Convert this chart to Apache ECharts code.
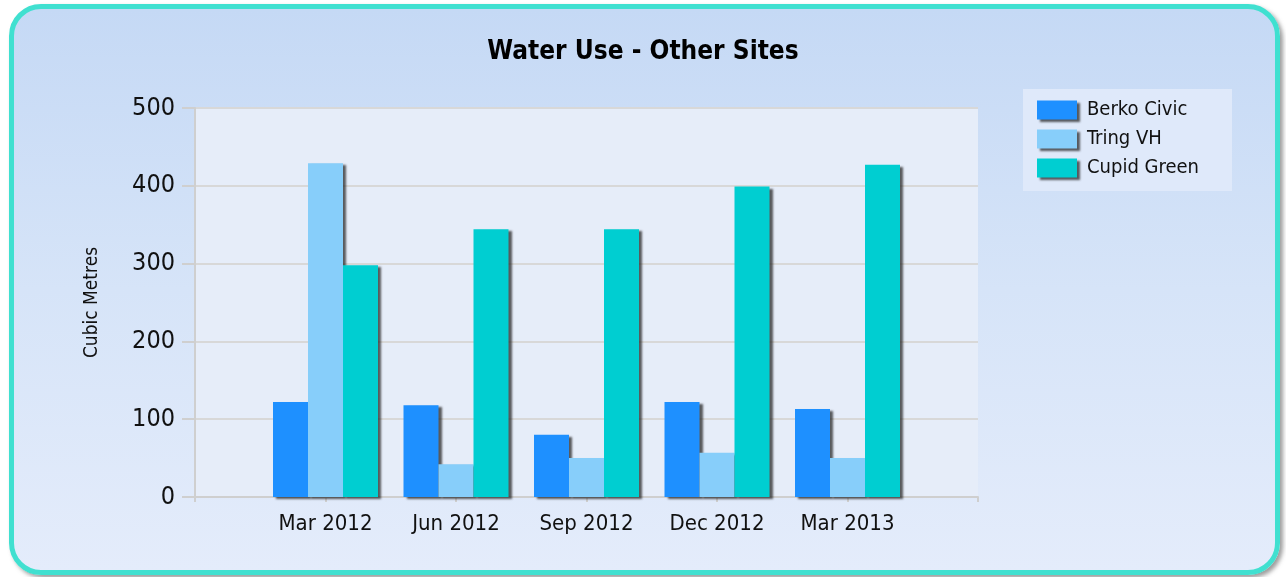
<!DOCTYPE html>
<html>
<head>
<meta charset="utf-8">
<script src="https://cdn.jsdelivr.net/npm/echarts@6/dist/echarts.min.js"></script>
<style>
  html, body { margin: 0; padding: 0; background: #ffffff; }
  #frame {
    position: absolute; left: 9px; top: 4px; width: 1261px; height: 561px;
    border: 5px solid #40e0d0; border-radius: 32px;
    background: linear-gradient(to bottom, #c5d9f5 0%, #d6e4f8 50%, #e4ecfb 100%);
    box-shadow: 3px 3px 4px rgba(90, 90, 90, 0.6);
  }
  #echarts { position: absolute; left: 0; top: 0; width: 1286px; height: 577px; }
</style>
</head>
<body>
<div id="frame"></div>
<div id="echarts"></div>
<script>
  // 数据
  var categories = ['Mar 2012', 'Jun 2012', 'Sep 2012', 'Dec 2012', 'Mar 2013'];
  var berkoCivic = [122, 118, 80, 122, 113];
  var tringVH = [429, 42, 50, 57, 50];
  var cupidGreen = [298, 344, 344, 399, 427];
  var seriesNames = ['Berko Civic', 'Tring VH', 'Cupid Green'];
  var colors = ['#1e90ff', '#87cefa', '#00ced1'];

  var font = "'DejaVu Sans Condensed', 'DejaVu Sans', sans-serif";

  // empty slot on each side of the axis
  function pad(arr) {
    return [''].concat(arr).concat(['']);
  }
  function padData(arr) {
    return ['-'].concat(arr).concat(['-']);
  }

  var myChart = echarts.init(document.getElementById('echarts'));
  var series = [];
  [berkoCivic, tringVH, cupidGreen].forEach(function (values, i) {
    series.push({
      name: seriesNames[i],
      type: 'bar',
      barWidth: 35,
      barGap: '0%',
      itemStyle: {
        color: colors[i],
        shadowColor: 'rgba(40,40,40,0.75)',
        shadowBlur: 2,
        shadowOffsetX: 3,
        shadowOffsetY: 2
      },
      data: padData(values)
    });
  });

  var myOption = {
    animation: false,
    backgroundColor: 'transparent',
    title: {
      text: 'Water Use - Other Sites',
      left: 'center',
      top: 34,
      textStyle: { fontFamily: font, fontSize: 26, fontWeight: 'bold', color: '#000' }
    },
    legend: {
      orient: 'vertical',
      left: 1023,
      top: 89,
      padding: [11, 33, 13, 14],
      itemGap: 9,
      itemWidth: 40,
      itemHeight: 19,
      icon: 'rect',
      backgroundColor: '#dfe9fa',
      itemStyle: {
        shadowColor: 'rgba(40,40,40,0.75)',
        shadowBlur: 2,
        shadowOffsetX: 3,
        shadowOffsetY: 2
      },
      textStyle: { fontFamily: font, fontSize: 20, color: '#111', padding: [0, 0, 0, 5] },
      data: seriesNames
    },
    grid: {
      left: 195,
      right: 308,
      top: 108,
      bottom: 80,
      show: true,
      backgroundColor: '#e6edf9',
      borderWidth: 0
    },
    xAxis: [{
      type: 'category',
      boundaryGap: false,
      data: pad(categories),
      axisLine: { lineStyle: { color: '#cfcfcf', width: 2 } },
      axisTick: { show: true, interval: 0, length: 5, lineStyle: { color: '#cfcfcf', width: 2 } },
      axisLabel: { interval: 0, margin: 16, fontFamily: font, fontSize: 22, color: '#111' },
      splitLine: { show: false }
    }],
    yAxis: [{
      type: 'value',
      min: 0,
      max: 500,
      interval: 100,
      name: 'Cubic Metres',
      nameLocation: 'middle',
      nameGap: 93,
      nameTextStyle: { fontFamily: font, fontSize: 19, color: '#111' },
      axisLine: { show: true, lineStyle: { color: '#cfcfcf', width: 2 } },
      axisTick: { show: true, length: 13, lineStyle: { color: '#cfcfcf', width: 2 } },
      axisLabel: { margin: 20, fontFamily: font, fontSize: 25, color: '#111' },
      splitLine: { show: true, lineStyle: { color: '#d8d8d8', width: 2 } }
    }],
    series: series
  };
  myChart.setOption(myOption);
</script>
</body>
</html>
